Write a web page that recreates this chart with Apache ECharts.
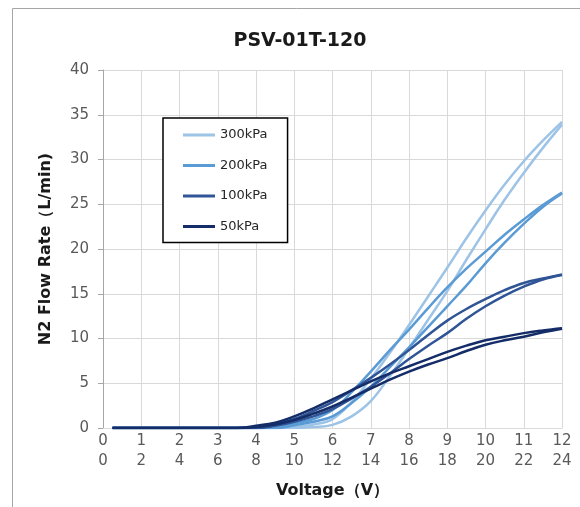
<!DOCTYPE html>
<html>
<head>
<meta charset="utf-8">
<script src="https://cdn.jsdelivr.net/npm/echarts@6/dist/echarts.min.js"></script>
<style>html,body{margin:0;padding:0;background:#fff}#c{width:580px;height:507px}</style>
</head>
<body>
<div id="c"></div>
<script>
var voltage = [0.25,1,2,3,3.5,4,4.5,5,5.5,6,6.5,7,7.5,8,8.5,9,9.5,10,10.5,11,11.5,12];
var p300dn = [0,0,0,0,0,0,0,0.1,0.4,1.0,2.9,5.5,8.4,11.5,14.7,17.9,21.2,24.3,27.2,29.8,32.1,34.2];
var p300up = [0,0,0,0,0,0,0,0,0.1,0.35,1.3,3.0,5.8,8.9,12.1,15.3,18.8,22.2,25.5,28.5,31.3,33.9];
var p200dn = [0,0,0,0,0,0,0.15,0.5,1.0,2.0,4.0,6.3,8.7,11.0,13.4,15.7,17.8,19.7,21.6,23.3,24.9,26.3];
var p200up = [0,0,0,0,0,0,0,0.3,0.7,1.3,2.8,4.6,6.8,9.0,11.3,13.6,15.9,18.4,20.7,22.8,24.7,26.2];
var p100dn = [0,0,0,0,0,0.15,0.45,1.0,1.9,2.9,4.2,5.6,7.1,8.7,10.4,12.0,13.3,14.4,15.4,16.2,16.7,17.15];
var p100up = [0,0,0,0,0,0,0.25,0.7,1.3,2.1,3.3,4.6,6.1,7.7,9.2,10.6,12.2,13.6,14.8,15.8,16.6,17.1];
var p50dn = [0,0,0,0,0,0.25,0.6,1.3,2.2,3.2,4.2,5.2,6.1,6.9,7.7,8.5,9.2,9.8,10.2,10.6,10.9,11.15];
var p50up = [0,0,0,0,0,0.1,0.4,0.9,1.6,2.4,3.4,4.4,5.4,6.3,7.1,7.8,8.6,9.3,9.8,10.2,10.7,11.1];
var seriesNames = ['300kPa','200kPa','100kPa','50kPa'];
var seriesColors = ['#9DC3E6','#5B9BD5','#2F5597','#142D68'];
var curves = [[p300dn,p300up],[p200dn,p200up],[p100dn,p100up],[p50dn,p50up]];

var font = 'DejaVu Sans, Verdana, sans-serif';
function pairs(ys){ return voltage.map(function(v,i){ return [v, ys[i]]; }); }
var series = [];
curves.forEach(function(pair, k){
  pair.forEach(function(ys){
    series.push({
      name: seriesNames[k], type: 'line', data: pairs(ys),
      smooth: 0.4, showSymbol: false, symbol: 'none',
      lineStyle: {color: seriesColors[k], width: 2.5},
      itemStyle: {color: seriesColors[k]},
      emphasis: {disabled: true}, silent: true
    });
  });
});

var chart = echarts.init(document.getElementById('c'), null, {renderer: 'canvas'});
chart.setOption({
  animation: false,
  backgroundColor: '#fff',
  graphic: [{type: 'rect', left: 10, top: 6, shape: {width: 620, height: 520},
    style: {fill: 'none', stroke: '#A6A6A6', lineWidth: 1}, silent: true, z: -1}],
  title: {text: 'PSV-01T-120', left: 295, top: 27, textAlign: 'center',
    textStyle: {fontFamily: font, fontSize: 19, fontWeight: 'bold', color: '#1a1a1a'}},
  grid: {left: 103, right: 18, top: 70, bottom: 79},
  legend: {
    orient: 'vertical', left: 163, top: 118,
    data: seriesNames.map(function(n){ return {name: n, icon: 'rect'}; }),
    itemWidth: 32, itemHeight: 3, itemGap: 14.5,
    padding: [9, 20, 8, 20],
    borderColor: '#000', borderWidth: 1.5, backgroundColor: '#fff',
    textStyle: {fontFamily: font, fontSize: 13, lineHeight: 16, color: '#262626'}
  },
  xAxis: {
    type: 'value', min: 0, max: 12, interval: 1,
    name: 'Voltage（V）', nameLocation: 'middle', nameGap: 55,
    nameTextStyle: {fontFamily: font, fontSize: 16, fontWeight: 'bold', color: '#1a1a1a'},
    axisLine: {show: true, lineStyle: {color: '#D9D9D9'}},
    axisTick: {show: false},
    splitLine: {show: true, lineStyle: {color: '#D9D9D9'}},
    axisLabel: {fontFamily: font, fontSize: 15, color: '#595959', lineHeight: 20, margin: 3,
      formatter: function(v){ return v + '\n' + (v * 2); }}
  },
  yAxis: {
    type: 'value', min: 0, max: 40, interval: 5,
    name: 'N2 Flow Rate（L/min)', nameLocation: 'middle', nameGap: 49,
    nameTextStyle: {fontFamily: font, fontSize: 16, fontWeight: 'bold', color: '#1a1a1a'},
    axisLine: {show: true, lineStyle: {color: '#A6A6A6'}},
    axisTick: {show: true, length: 5, lineStyle: {color: '#A6A6A6'}},
    splitLine: {show: true, lineStyle: {color: '#D9D9D9'}},
    axisLabel: {fontFamily: font, fontSize: 15, color: '#595959', margin: 14}
  },
  series: series
});
</script>
</body>
</html>
